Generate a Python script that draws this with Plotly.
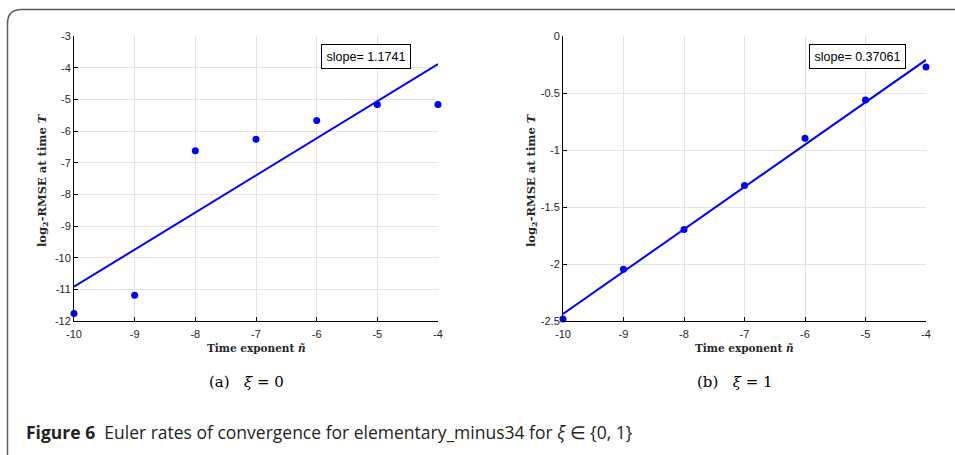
import numpy as np
import plotly.graph_objects as go

# ---- data ----
n_exp = [-10, -9, -8, -7, -6, -5, -4]
rmse_xi0 = [-11.76, -11.19, -6.62, -6.26, -5.67, -5.16, -5.16]
rmse_xi1 = [-2.482, -2.046, -1.697, -1.311, -0.898, -0.562, -0.272]
slope_labels = ["slope= 1.1741", "slope= 0.37061"]
sub_captions = ["(a)   <i>ξ</i> = 0", "(b)   <i>ξ</i> = 1"]
x_ticks = [-10, -9, -8, -7, -6, -5, -4]
y_ticks_a = [-12, -11, -10, -9, -8, -7, -6, -5, -4, -3]
y_ticks_b = [-2.5, -2, -1.5, -1, -0.5, 0]

W, H = 955, 455
BLUE = "#0000ff"
TICKFONT = dict(family="Liberation Sans, Arial, sans-serif", size=11, color="#262626")
SERIF = "DejaVu Serif, Liberation Serif, serif"

def lbl(v):
    s = f"{v:g}"
    return s.replace("\u2212", "-")

def px(x):
    return x / W

def py(y):
    return 1 - y / H

fig = go.Figure()

panels = [
    dict(y=rmse_xi0, xa="x", ya="y", dom=(74, 438), yt=y_ticks_a, yr=(-12, -3), box=365.5),
    dict(y=rmse_xi1, xa="x2", ya="y2", dom=(563, 926), yt=y_ticks_b, yr=(-2.5, 0), box=857.5),
]

ytop, ybot = 36, 321
ydom = [py(ybot), py(ytop)]

for i, p in enumerate(panels):
    coef = np.polyfit(n_exp, p["y"], 1)
    xs = np.array([min(n_exp), max(n_exp)], dtype=float)
    fig.add_trace(go.Scatter(x=xs, y=np.polyval(coef, xs), mode="lines",
                             line=dict(color=BLUE, width=2), xaxis=p["xa"], yaxis=p["ya"],
                             showlegend=False, hoverinfo="skip", cliponaxis=False))
    fig.add_trace(go.Scatter(x=n_exp, y=p["y"], mode="markers",
                             marker=dict(color=BLUE, size=7), xaxis=p["xa"], yaxis=p["ya"],
                             showlegend=False, cliponaxis=False))
    xkey = "xaxis" if i == 0 else "xaxis2"
    ykey = "yaxis" if i == 0 else "yaxis2"
    fig.update_layout(**{
        xkey: dict(domain=[px(p["dom"][0]), px(p["dom"][1])], range=[-10, -4],
                   anchor=p["ya"], tickvals=x_ticks, ticktext=[lbl(v) for v in x_ticks],
                   showgrid=True, gridcolor="#e3e3e3", gridwidth=1, zeroline=False,
                   showline=True, linecolor="#000000", linewidth=1, automargin=False,
                   ticks="inside", ticklen=4, tickcolor="#000000", tickfont=TICKFONT,
                   ticklabelstandoff=3),
        ykey: dict(domain=ydom, range=list(p["yr"]), anchor=p["xa"],
                   tickvals=p["yt"], ticktext=[lbl(v) for v in p["yt"]],
                   showgrid=True, gridcolor="#e3e3e3", gridwidth=1, zeroline=False,
                   showline=True, linecolor="#000000", linewidth=1, automargin=False,
                   ticks="inside", ticklen=4, tickcolor="#000000", tickfont=TICKFONT),
    })
    cx = (p["dom"][0] + p["dom"][1]) / 2
    # x title
    fig.add_annotation(x=px(cx), y=py(348), xref="paper", yref="paper",
                       xanchor="center", yanchor="middle",
                       text="<b>Time exponent <i>ñ</i></b>", showarrow=False,
                       font=dict(family=SERIF, size=10.5, color="#262626"))
    # y title
    fig.add_annotation(x=px(p["dom"][0] - 31), y=py(180), xref="paper", yref="paper",
                       xanchor="center", yanchor="middle",
                       text="<b>log<sub>2</sub>-RMSE at time <i>T</i></b>", showarrow=False,
                       textangle=-90, font=dict(family=SERIF, size=11.5, color="#262626"))
    # slope box
    fig.add_annotation(x=px(p["box"]), y=py(56), xref="paper", yref="paper",
                       xanchor="center", yanchor="middle",
                       text=slope_labels[i], showarrow=False,
                       font=dict(family="Liberation Sans, Arial, sans-serif", size=12.5, color="#000000"),
                       bgcolor="#ffffff", bordercolor="#000000", borderwidth=1, borderpad=4.5)
    # sub caption
    fig.add_annotation(x=px(cx - 10), y=py(382), xref="paper", yref="paper",
                       xanchor="center", yanchor="middle",
                       text=sub_captions[i], showarrow=False,
                       font=dict(family=SERIF, size=15, color="#000000"))

# main caption
fig.add_annotation(x=px(24), y=py(432), xref="paper", yref="paper",
                   xanchor="left", yanchor="middle",
                   text="<b>Figure 6</b>  Euler rates of convergence for elementary_minus34 for <i>ξ</i> ∈ {0, 1}",
                   showarrow=False,
                   font=dict(family="Open Sans, sans-serif", size=17.5, color="#231f20"))

# frame with rounded top-left corner
r = 14
x0, y0 = px(7.5), py(9.5)
path = (f"M {x0},-0.1 L {x0},{py(9.5 + r)} "
        f"Q {x0},{y0} {px(7.5 + r)},{y0} L 1.1,{y0}")
fig.add_shape(type="path", path=path, xref="paper", yref="paper",
              line=dict(color="#5a5a5a", width=1.5))

fig.update_layout(width=W, height=H, margin=dict(l=0, r=0, t=0, b=0, autoexpand=False),
                  paper_bgcolor="#ffffff", plot_bgcolor="#ffffff")

fig.write_html("out.html", config={"displayModeBar": False},
               post_script="document.body.style.margin='0';document.body.style.overflow='hidden';")
